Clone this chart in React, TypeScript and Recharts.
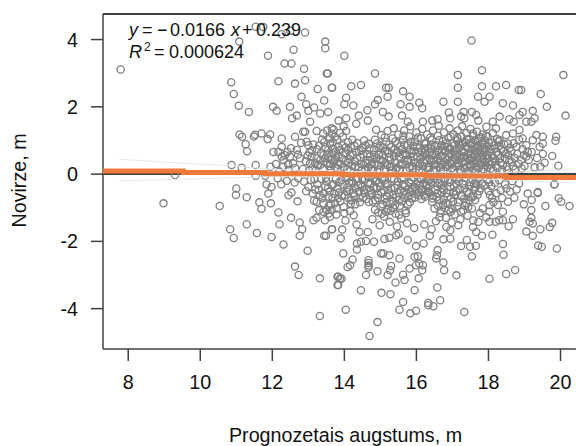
import React from 'react';
import {
  ScatterChart,
  Scatter,
  XAxis,
  YAxis,
  ReferenceLine,
} from 'recharts';

type Pair = [number, number];

const xTicks = [8, 10, 12, 14, 16, 18, 20];
const yTicks = [-4, -2, 0, 2, 4];
const xDomain = [7.3, 20.43];
const yDomain = [-5.2, 4.76];

// fitted line (it is stepped in the image)
const fitLine: Pair[] = [
  [7.3, 0.09], [9.53, 0.09], [9.53, 0.05], [11.8, 0.05], [11.8, 0.01], [13.95, 0.01],
  [13.95, -0.02], [16.27, -0.02], [16.27, -0.06], [18.49, -0.06], [18.49, -0.1], [20.43, -0.1],
];
const bandUpper: Pair[] = [
  [7.77, 0.44], [9.53, 0.32], [10.83, 0.25], [12, 0.14], [15, 0.06], [18, 0.02], [19.4, 0.09], [20.25, 0.14],
];
const bandLower: Pair[] = [
  [7.77, -0.2], [12.1, -0.08], [15, -0.07], [18, -0.15], [20.25, -0.26],
];

// outlying points, top left
const upperLeft: Pair[] = [
  [7.79, 3.11], [11.54, 4.38], [11.75, 4.37], [12.26, 4.16], [12.5, 4.26], [12.91, 4.21], [11.08, 3.94], [13.47, 3.94],
  [13.47, 3.74], [12.59, 3.7], [11.88, 3.52], [12.34, 3.29], [12.53, 3.29], [12.88, 3.13], [13.51, 2.99], [10.86, 2.73],
  [12.17, 2.76], [12.63, 2.69], [12.91, 2.79], [13.26, 2.53], [13.66, 2.57], [10.93, 2.38], [12.81, 2.3], [13.44, 2.19],
  [11.07, 2.03], [11.35, 1.85], [12.02, 2], [12.12, 1.88], [12.49, 2], [12.94, 2.08], [13, 1.88], [13.16, 1.98],
  [13.55, 1.85], [13.33, 1.8], [12.68, 1.74], [12.55, 1.66], [13.05, 1.56], [12.91, 1.26], [13.23, 1.28], [13.41, 1.21],
  [13.65, 1.36], [13.65, 1.21], [11.09, 1.18], [11.16, 1.11], [11.26, 0.89], [11.3, 0.68], [11.49, 1.12], [11.52, 1.17],
  [11.7, 1.21], [11.87, 1.04], [11.94, 1.18], [10.87, 0.27], [11.15, 0.19], [11.54, 0.27], [11.54, -0.05], [11.95, 0.22],
  [11.8, -0.05], [12.26, 1.06], [12.63, 1.11], [12.95, 0.96], [13, 0.86], [12.86, 1.26], [12.26, 0.81], [12.17, 0.66],
  [12.03, 0.66], [12.35, 0.56], [12.58, 0.32], [12.77, 0.47], [12.49, 0.52], [12.26, 0.52], [13.05, 0.32], [13.23, 0.47],
  [13.42, 0.56], [13.56, 0.51], [13.51, 0.32], [13.74, 0.42], [13.42, 0.17], [13.19, 0.32], [13.6, 1.06], [13.74, 1.11],
  [13.83, 0.81], [12.1, 0.3], [12.3, 0.22], [12.42, 0.66], [12.45, 0.12], [12.68, 0.72], [12.85, 0.15], [13.1, 0.7],
  [13.3, 0.85], [13.35, 0.62], [13.47, 0.8], [13.2, 0.1], [12.98, 0.55], [12.2, 0.08],
];

// outlying points, top right
const upperRight: Pair[] = [
  [17.53, 3.97], [14, 3.52], [14.85, 2.99], [13.54, 2.99], [13.65, 2.57], [14.19, 2.61], [14.46, 2.65], [15.16, 2.57],
  [15.23, 2.57], [14.05, 2.27], [14, 2.08], [14.25, 2.04], [15.2, 2.3], [14.93, 2.2], [14.85, 2.08], [15.07, 1.85],
  [15.23, 1.71], [14.64, 1.9], [15.63, 2.46], [15.81, 2.3], [15.56, 2.08], [15.81, 2], [15.6, 1.74], [15.76, 1.56],
  [16.08, 2.12], [16.16, 1.96], [17.15, 2.95], [17.15, 2.57], [17.15, 2.15], [16.75, 2.15], [17.82, 3.09], [17.82, 2.61],
  [18.21, 2.61], [18.49, 2.65], [17.71, 2.3], [18.03, 2.3], [17.89, 2.15], [18.84, 2.5], [18.91, 2.5], [19.45, 2.38],
  [20.08, 2.95], [19.62, 2], [20.14, 1.74], [19.23, 1.88], [19.28, 1.66], [18.4, 2.11], [18.68, 2.04], [18.95, 1.85],
  [18.86, 1.76], [19.05, 1.56], [19.19, 1.56], [16.9, 1.83], [16.94, 1.66], [17.31, 1.85], [17.24, 1.71], [17.33, 1.66],
  [17.54, 1.85], [17.66, 1.76], [17.72, 1.59], [16.59, 1.63], [16.44, 1.59], [16.18, 1.56], [14.4, 1.74], [13.84, 1.59],
  [14.05, 1.66], [14.65, 1.59], [14.33, 1.5], [18.31, 1.71], [18.12, 1.56], [18.58, 1.63], [18.7, 1.56], [17.94, 1.41],
  [18.21, 1.36], [19.33, 1.16], [19.51, 1.11], [19.88, 1.11], [19.86, 0.99], [19.51, 0.91], [19.77, 0.54], [19.56, 0.34],
  [19.94, 0.25], [19.51, 0.6], [19.42, 0.81], [19.05, 0.52], [19.09, 0.66], [19.23, 1.01], [18.95, 1.06], [18.68, 1.21],
  [18.49, 1.16], [18.31, 1.01], [18.86, 1.31], [18.54, 0.91],
];

// outlying points, bottom left
const lowerLeft: Pair[] = [
  [9.3, -0.03], [8.98, -0.87], [10.54, -0.95], [11, -0.43], [10.99, -0.62], [11.29, -0.69], [11.64, -0.84], [11.7, -1.03],
  [11.96, -0.87], [11.89, -0.58], [11.98, -0.38], [11.84, -0.31], [12.17, -1.14], [12.45, -0.63], [12.53, -0.55], [12.7, -0.81],
  [12.52, -1.3], [12.2, -1.49], [12.76, -1.44], [12.83, -1.64], [12.76, -1.83], [11.29, -1.49], [10.83, -1.64], [10.93, -1.9],
  [11.57, -1.75], [11.98, -1.87], [12.31, -2.09], [12.98, -2.28], [12.63, -2.75], [12.73, -3], [13.32, -3.1], [13.32, -4.22],
  [13.81, -3.05], [13.81, -3.3], [13.88, -3.1], [13.44, -1.83], [13.66, -1.64], [13.14, -1.37], [13.23, -1.3], [13.46, -1.37],
  [13.56, -1.17], [13.65, -1.07], [13.51, -1.07], [13.3, -1.07], [13.42, -1.12], [13.6, -1.27], [13.74, -0.87], [13.42, -0.87],
  [13.23, -0.82], [13.16, -0.79], [13.32, -0.63], [13.12, -0.58], [13.42, -0.58], [13.56, -0.67], [13.83, -0.72], [12.25, -0.3],
  [12.4, -0.2], [12.15, -0.12], [12.62, -0.25], [12.88, -0.22], [13, -0.38], [12.72, -0.12], [13.25, -0.3], [13.5, -0.22],
];

// outlying points, bottom right
const lowerRight: Pair[] = [
  [14.7, -4.81], [14.92, -4.4], [14.04, -4.03], [14.46, -3.45], [13.83, -3.3], [13.83, -3.05], [13.92, -3.11], [14.6, -3],
  [14.92, -2.89], [15.03, -3.53], [15.28, -3.57], [15.42, -3.22], [15.67, -3.15], [15.63, -2.99], [15.2, -3], [15.27, -2.86],
  [15.3, -2.73], [15.81, -2.81], [16.06, -3.1], [15.95, -3.45], [15.63, -3.8], [15.53, -4.03], [15.83, -4.14], [15.99, -4.06],
  [16.33, -3.83], [16.33, -3.9], [16.47, -3.93], [16.66, -3.75], [16.58, -3.37], [17.33, -4.1], [17.11, -3.01], [18.03, -3.11],
  [18.49, -2.97], [18.74, -2.85], [16.77, -2.86], [16.75, -2.63], [16.55, -2.51], [16.57, -2.41], [16.59, -2.26], [16.16, -2.86],
  [16.18, -2.71], [16.08, -2.66], [15.99, -2.71], [15.95, -2.46], [16.04, -2.44], [15.53, -2.51], [15.25, -2.41], [15.02, -2.36],
  [15.08, -2.36], [14.67, -2.56], [14.67, -2.64], [14.67, -2.72], [14.67, -2.78], [14.23, -2.54], [14.16, -2.71], [14.09, -2.76],
  [13.97, -2.36], [14.35, -2.24], [17.54, -2.44], [17.24, -2.14], [17.49, -2.16], [17.65, -2.13], [17.4, -1.96], [18.4, -2.08],
  [18.42, -2.4], [19.38, -2.12], [19.48, -2.16], [19.9, -2.21], [19.23, -1.83], [19.05, -1.71], [19.44, -1.64], [19.7, -1.57],
  [19.77, -1.45], [19.58, -0.95], [20.25, -0.95], [19.95, -0.72], [20.02, -0.82], [19.83, -0.31], [19.37, -0.56], [19.2, -0.77],
  [19.19, -1.07], [19.19, -1.3], [19.14, -1.42], [19.23, -1.47], [19.09, -0.58], [18.68, -1.34], [18.56, -1.55], [18.11, -1.8],
  [17.82, -1.83], [18.03, -0.92], [18.03, -1.12], [18.03, -1.42], [18.2, -1.42], [18.4, -1.37], [18.54, -0.82], [18.4, -1.12],
  [18.3, -1.37], [17.63, -0.77], [17.57, -0.67], [17.72, -1.42], [17.57, -1.57], [17.66, -1.72], [17.16, -1.52], [16.94, -1.92],
  [16.75, -1.94], [16.94, -1.67], [16.83, -1.57], [16.37, -1.83], [16.2, -2.06], [15.99, -2.14], [15.76, -1.96], [15.51, -1.77],
  [14.82, -2.01], [14.6, -1.99], [14.46, -2.01], [14.35, -2.06], [14.42, -1.72], [14.65, -1.72], [15.11, -1.93], [15.25, -1.89],
  [15.44, -1.82], [13.9, -1.91], [13.94, -1.65], [13.65, -1.64], [13.49, -1.83], [19.83, -0.3], [19.37, -0.53],
];

// the crowded part above zero
const denseAbove: Pair[] = [
  [13.52, 1.3], [13.6, 0.9], [13.66, 0.62], [13.7, 1.32], [13.75, 0.2], [13.8, 1.02], [13.84, 0.55], [13.88, 1.22],
  [13.9, 0.3], [13.95, 0.86], [13.98, 1.42], [14.02, 0.62], [14.05, 1.28], [14.08, 0.14], [14.1, 0.95], [13.62, 0.12],
  [13.7, 0.36], [13.55, 0.72], [14.14, 0.44], [14.18, 0.8], [14.22, 1.02], [14.3, 0.22], [14.33, 0.66], [14.36, 0.92],
  [14.44, 0.5], [14.48, 0.1], [14.5, 0.78], [14.55, 1], [14.6, 0.32], [14.64, 0.6], [14.68, 0.9], [14.74, 0.16],
  [14.78, 0.44], [14.82, 0.72], [14.85, 1.02], [14.88, 1.32], [14.92, 0.26], [14.96, 0.58], [15, 0.84], [15.03, 1.16],
  [15.06, 0.38], [15.1, 0.12], [15.13, 0.68], [15.16, 0.96], [15.2, 1.28], [15.24, 0.5], [15.27, 0.22], [15.3, 0.8],
  [15.34, 1.06], [15.37, 1.36], [15.41, 0.34], [15.44, 0.62], [15.47, 0.9], [15.5, 1.18], [15.54, 0.14], [15.57, 0.46],
  [15.6, 0.74], [15.63, 1.02], [15.66, 1.3], [15.7, 0.28], [15.73, 0.56], [15.76, 0.86], [15.8, 1.12], [15.83, 1.42],
  [15.86, 0.4], [15.9, 0.16], [15.93, 0.68], [15.96, 0.96], [16, 1.24], [16.03, 0.52], [16.06, 0.24], [16.09, 0.78],
  [16.13, 1.06], [16.16, 1.34], [16.2, 0.36], [16.23, 0.64], [16.26, 0.92], [16.3, 1.18], [16.33, 0.12], [16.36, 0.46],
  [16.4, 0.76], [16.43, 1.02], [16.46, 1.3], [16.5, 0.26], [16.53, 0.58], [16.56, 0.86], [16.59, 1.14], [16.62, 1.44],
  [16.65, 0.38], [16.68, 0.14], [16.71, 0.7], [16.74, 0.98], [16.77, 1.24], [16.8, 0.5], [16.83, 0.22], [16.86, 0.8],
  [16.89, 1.08], [16.92, 1.36], [16.94, 0.34], [16.97, 0.62], [17, 0.92], [17.03, 1.18], [17.05, 0.12], [17.08, 0.44],
  [17.1, 0.72], [17.13, 1], [17.15, 1.3], [17.18, 0.24], [17.2, 0.56], [17.22, 0.84], [17.25, 1.12], [17.27, 1.42],
  [17.3, 0.36], [17.32, 0.66], [17.35, 0.16], [17.37, 0.94], [17.39, 1.22], [17.42, 0.48], [17.44, 0.76], [17.46, 1.04],
  [17.48, 0.28], [17.5, 1.34], [17.52, 0.6], [17.54, 0.88], [17.56, 0.14], [17.58, 1.14], [17.6, 0.4], [17.62, 0.7],
  [17.64, 0.98], [17.66, 0.22], [17.68, 1.26], [17.7, 0.52], [17.72, 0.8], [17.74, 1.06], [17.76, 0.32], [17.78, 0.62],
  [17.8, 0.12], [17.82, 0.9], [17.84, 1.18], [17.86, 0.44], [17.88, 0.72], [17.9, 1], [17.92, 0.26], [17.94, 0.56],
  [17.96, 0.84], [17.98, 1.12], [18, 0.36], [18.03, 0.66], [18.06, 0.16], [18.09, 0.94], [18.12, 1.22], [18.15, 0.48],
  [18.18, 0.76], [18.21, 0.24], [18.24, 1.04], [18.27, 0.58], [18.3, 0.84], [18.34, 0.34], [18.38, 0.12], [18.42, 0.68],
  [18.46, 0.46], [18.5, 0.22], [18.55, 0.56], [18.6, 0.78], [18.65, 0.36], [18.7, 0.92], [18.75, 0.14], [18.8, 0.6],
  [18.85, 1.02], [18.9, 0.42], [18.95, 0.74], [19, 0.24], [19.05, 0.86], [19.12, 0.42], [19.2, 0.66], [19.28, 0.2],
  [19.35, 0.48], [19.44, 0.22],
];

// second pass over the solid area above zero, where the rings overlap
const solidAbove: Pair[] = [
  [12.31, 0.42], [12.44, 0.29], [12.52, 0.77], [12.63, 0.18], [12.71, 0.58], [12.8, 0.93], [12.93, 0.38], [13.02, 0.11],
  [13.09, 0.52], [13.14, 0.88], [13.27, 0.26], [13.33, 0.41], [13.38, 1.03], [13.46, 0.47], [13.58, 0.24], [13.64, 0.44],
  [13.69, 0.76], [13.77, 0.5], [13.81, 0.16], [13.93, 0.47], [13.97, 0.22], [14.04, 0.79], [14.11, 0.33], [14.17, 0.09],
  [14.24, 0.57], [14.29, 0.38], [14.39, 0.21], [14.47, 0.71], [14.53, 0.28], [14.59, 0.86], [14.66, 0.19], [14.71, 0.52],
  [14.8, 0.12], [14.84, 0.31], [14.91, 0.91], [14.97, 0.13], [15.01, 0.43], [15.08, 0.79], [15.12, 1.09], [15.18, 0.27],
  [15.23, 0.63], [15.28, 0.41], [15.32, 0.11], [15.39, 0.73], [15.42, 0.97], [15.46, 0.19], [15.52, 0.52], [15.55, 0.83],
  [15.61, 0.31], [15.64, 1.14], [15.69, 0.61], [15.72, 0.11], [15.77, 0.43], [15.81, 0.72], [15.84, 0.96], [15.88, 0.23],
  [15.92, 0.52], [15.97, 0.34], [16.01, 0.81], [16.04, 1.09], [16.08, 0.13], [16.11, 0.44], [16.15, 0.68], [16.19, 0.24],
  [16.22, 0.91], [16.25, 0.41], [16.28, 0.58], [16.32, 0.77], [16.35, 0.21], [16.38, 1.08], [16.41, 0.37], [16.44, 0.56],
  [16.47, 0.12], [16.51, 0.83], [16.54, 0.29], [16.57, 0.66], [16.6, 0.46], [16.63, 1.01], [16.66, 0.21], [16.69, 0.86],
  [16.72, 0.54], [16.75, 0.11], [16.78, 0.36], [16.81, 0.68], [16.84, 0.92], [16.87, 0.28], [16.9, 0.51], [16.93, 0.77],
  [16.95, 1.12], [16.98, 0.17], [17.01, 0.41], [17.04, 0.66], [17.06, 0.86], [17.09, 0.23], [17.12, 0.52], [17.14, 1.07],
  [17.16, 0.33], [17.19, 0.77], [17.21, 0.13], [17.23, 0.46], [17.26, 0.68], [17.28, 0.93], [17.31, 0.19], [17.33, 0.53],
  [17.36, 0.36], [17.38, 0.81], [17.4, 1.03], [17.43, 0.09], [17.45, 0.62], [17.47, 0.41], [17.49, 0.91], [17.51, 0.21],
  [17.53, 0.73], [17.55, 0.49], [17.57, 1.21], [17.59, 0.31], [17.61, 0.83], [17.63, 0.56], [17.65, 0.12], [17.67, 0.66],
  [17.69, 0.38], [17.71, 0.97], [17.73, 0.18], [17.75, 0.71], [17.77, 0.47], [17.79, 1.09], [17.81, 0.27], [17.83, 0.76],
  [17.85, 0.57], [17.87, 0.14], [17.89, 0.88], [17.91, 0.36], [17.93, 1.14], [17.95, 0.67], [17.97, 0.21], [17.99, 0.48],
  [18.01, 0.93], [18.04, 0.28], [18.07, 0.74], [18.1, 0.53], [18.13, 0.12], [18.16, 0.86], [18.19, 0.39], [18.22, 0.64],
  [18.25, 0.18], [18.28, 0.97], [18.32, 0.47], [18.36, 0.73], [18.4, 0.27], [18.44, 0.89], [18.48, 0.61], [18.52, 0.14],
  [18.58, 0.41], [18.63, 0.68], [18.68, 0.23], [18.73, 0.48], [18.78, 0.81], [18.84, 0.31], [18.92, 0.17], [18.98, 0.56],
];

// third pass, the left and middle of the cloud were still too light
const thirdPass: Pair[] = [
  [13.03, 0.64], [13.11, 0.19], [13.17, -0.15], [13.24, 0.74], [13.29, -0.47], [13.34, 0.28], [13.39, -0.72], [13.44, 0.95],
  [13.49, -0.11], [13.53, 0.58], [13.57, -0.94], [13.61, 0.31], [13.65, -0.33], [13.68, 0.95], [13.72, -0.58], [13.76, 0.67],
  [13.79, -1.02], [13.83, 0.28], [13.86, -0.24], [13.89, 0.72], [13.93, -0.64], [13.96, 1.12], [14, -1.16], [14.03, 0.38],
  [14.07, -0.52], [14.1, 0.71], [14.13, -0.26], [14.16, 0.56], [14.19, -0.78], [14.22, 0.25], [14.26, -1.22], [14.28, 0.84],
  [14.31, -0.41], [14.35, 0.48], [14.37, -0.12], [14.41, 0.68], [14.43, -0.84], [14.46, 0.31], [14.49, -0.38], [14.52, 0.58],
  [14.56, -0.57], [14.58, 0.15], [14.61, -0.74], [14.65, 0.42], [14.67, -0.1], [14.7, 0.76], [14.73, -0.49], [14.76, 0.29],
  [14.79, -0.82], [14.83, 0.57], [14.87, -0.22], [14.9, 0.47], [14.93, -0.61], [14.95, 0.78], [14.99, -0.37], [15.02, 0.25],
  [15.04, -1.18], [15.07, 0.56], [15.11, -0.19], [15.14, 0.33], [15.17, -0.83], [15.19, 0.69], [15.22, -0.47], [15.25, 0.88],
  [15.29, -1.09], [15.31, 0.24], [15.35, -0.62], [15.38, 0.52], [15.41, -0.92], [15.43, 0.15], [15.47, -0.33], [15.49, 0.66],
  [15.53, -0.76], [15.56, 0.28], [15.59, -0.14], [15.62, 0.58], [15.65, -0.52], [15.67, 0.87], [15.71, -1.16], [15.74, 0.39],
  [15.78, -0.66], [15.81, 0.19], [15.83, -0.28], [15.87, 0.62], [15.89, -0.41], [15.91, 0.84], [15.95, -0.7], [15.98, 0.14],
  [16.02, -0.3], [16.05, 0.66], [16.07, -0.54], [16.1, 0.31], [16.13, -0.16], [16.17, 0.52], [16.21, -0.62], [16.24, 0.76],
  [16.27, -0.35], [16.31, 0.18], [16.33, -0.52], [16.37, 0.63], [16.39, -0.15], [16.42, 0.87], [16.45, -0.72], [16.49, 0.41],
  [16.52, -0.25], [16.55, 0.14], [16.58, -0.58], [16.61, 0.72], [16.64, -1.28], [16.67, 0.53], [16.7, -0.33], [16.73, 0.27],
  [16.76, -0.47], [16.79, 0.83], [16.82, -0.86], [16.85, 0.43], [16.88, -0.17], [16.91, 0.61], [16.95, -1.12], [16.99, 0.31],
  [17.02, -0.54], [17.07, 0.58], [17.11, -0.29], [17.17, 0.91], [17.24, -0.63], [17.29, 0.49], [17.34, -0.93], [17.41, 0.23],
  [17.47, -0.78], [17.53, 0.42], [17.6, -0.29], [17.68, 0.84], [17.74, -0.51], [17.92, 0.72], [18.02, -0.24], [18.11, 0.37],
];

// the crowded part below zero
const denseBelow: Pair[] = [
  [13.55, -0.42], [13.62, -0.9], [13.7, -0.3], [13.78, -1.2], [13.85, -0.55], [13.92, -0.18], [13.98, -0.98], [14.03, -1.38],
  [14.08, -0.4], [14.12, -0.72], [14.16, -1.1], [14.2, -0.2], [14.25, -0.56], [14.3, -0.9], [14.34, -1.5], [14.38, -0.34],
  [14.42, -0.7], [14.5, -0.14], [14.54, -0.48], [14.66, -0.26], [14.7, -0.62], [14.78, -1.34], [14.82, -0.4], [14.86, -0.78],
  [14.9, -0.18], [14.94, -1.14], [14.98, -1.52], [15.02, -0.54], [15.06, -0.9], [15.1, -1.26], [15.14, -0.28], [15.18, -0.66],
  [15.22, -1.04], [15.26, -1.42], [15.3, -0.42], [15.34, -0.8], [15.38, -0.16], [15.42, -1.18], [15.46, -1.56], [15.5, -0.56],
  [15.54, -0.94], [15.58, -1.32], [15.62, -0.3], [15.66, -0.7], [15.7, -1.08], [15.74, -1.46], [15.78, -0.46], [15.82, -0.84],
  [15.86, -0.18], [15.94, -1.6], [15.98, -0.6], [16.1, -0.32], [16.14, -0.74], [16.22, -1.5], [16.26, -0.5], [16.34, -0.2],
  [16.42, -1.64], [16.46, -0.64], [16.5, -1.02], [16.54, -1.4], [16.58, -0.36], [16.62, -0.78], [16.66, -1.16], [16.7, -0.54],
  [16.74, -0.92], [16.78, -0.2], [16.82, -1.3], [16.86, -0.68], [16.9, -1.06], [16.94, -0.38], [16.98, -1.44], [17.02, -0.82],
  [17.06, -1.2], [17.1, -0.5], [17.14, -0.96], [17.18, -0.22], [17.22, -1.34], [17.26, -0.66], [17.3, -1.08], [17.34, -0.42],
  [17.38, -0.86], [17.42, -1.24], [17.46, -0.56], [17.5, -0.24], [17.54, -1.02], [17.58, -1.38], [17.64, -0.4], [17.7, -0.62],
  [17.76, -1.16], [17.82, -0.28], [17.94, -1.28], [18, -0.5], [18.1, -0.72], [18.18, -0.26], [18.26, -0.92], [18.34, -0.48],
  [18.46, -0.3], [18.6, -0.52], [18.72, -0.7], [18.85, -0.28], [18.98, -0.9],
];

// second pass over the crowded part below zero
const solidBelow: Pair[] = [
  [12.94, -0.51], [13.07, -0.17], [13.19, -0.46], [13.36, -0.14], [13.47, -0.36], [13.59, -0.52], [13.67, -0.71], [13.76, -0.16],
  [13.81, -0.42], [13.89, -0.81], [13.96, -0.31], [14.01, -0.63], [14.06, -0.11], [14.14, -0.47], [14.18, -0.88], [14.23, -0.27],
  [14.28, -0.66], [14.33, -0.13], [14.4, -0.52], [14.45, -0.31], [14.52, -0.69], [14.57, -0.16], [14.62, -0.44], [14.68, -0.83],
  [14.72, -0.29], [14.76, -0.56], [14.81, -0.12], [14.85, -1.06], [14.89, -0.43], [14.93, -0.71], [14.97, -0.26], [15.01, -0.97],
  [15.05, -0.14], [15.09, -0.48], [15.12, -0.74], [15.16, -1.12], [15.2, -0.31], [15.24, -0.57], [15.28, -0.88], [15.32, -0.13],
  [15.36, -1.01], [15.4, -0.41], [15.44, -0.68], [15.48, -0.22], [15.52, -1.21], [15.56, -0.47], [15.6, -0.81], [15.64, -0.12],
  [15.68, -0.37], [15.72, -0.58], [15.76, -0.91], [15.8, -0.24], [15.84, -0.53], [15.88, -0.72], [15.92, -0.11], [15.96, -0.38],
  [16, -0.49], [16.04, -0.22], [16.08, -0.63], [16.12, -0.13], [16.16, -0.46], [16.2, -0.28], [16.24, -0.67], [16.28, -0.14],
  [16.32, -0.41], [16.36, -0.56], [16.4, -0.25], [16.44, -0.83], [16.48, -0.12], [16.52, -0.47], [16.56, -0.68], [16.6, -0.94],
  [16.64, -0.27], [16.68, -1.08], [16.72, -0.42], [16.76, -0.76], [16.8, -0.13], [16.84, -0.56], [16.88, -0.89], [16.92, -0.24],
  [16.96, -0.71], [17, -1.04], [17.04, -0.37], [17.08, -0.61], [17.12, -0.14], [17.16, -0.84], [17.2, -0.46], [17.24, -1.12],
  [17.28, -0.29], [17.32, -0.74], [17.36, -0.11], [17.4, -0.52], [17.44, -0.98], [17.48, -0.36], [17.52, -0.68], [17.56, -0.17],
  [17.6, -0.46], [17.66, -0.27], [17.72, -0.14], [17.78, -0.42], [17.84, -1.02], [17.9, -0.33], [17.96, -0.16], [18.04, -0.62],
  [18.08, -0.36], [18.14, -0.84], [18.22, -0.57], [18.3, -0.18], [18.38, -0.71], [18.5, -0.43], [18.66, -0.21], [18.78, -0.46],
];

const toPoints = (pairs: Pair[]) => pairs.map(([x, y]) => ({ x, y }));
const allPoints = toPoints([
  ...upperLeft, ...upperRight, ...lowerLeft, ...lowerRight,
  ...denseAbove, ...solidAbove, ...thirdPass, ...denseBelow, ...solidBelow,
]);

const AXIS = '#404040';
const FONT = '"Liberation Sans", Arial, sans-serif';
const TEXT = '#111';
const LABEL_SIZE = 19.7;

const Ring = ({ cx, cy }: any) => (
  <circle cx={cx} cy={cy} r={3.6} fill="none" stroke="#808080" strokeWidth={1.3} />
);
const NoDot = () => null;

export default function App() {
  return (
    <div style={{ position: 'absolute', left: 0, top: 0, width: 576, height: 446, background: '#fff', overflow: 'hidden' }}>
      <ScatterChart width={576} height={446} margin={{ top: 14, right: 0, bottom: 0, left: 0 }}>
        <XAxis
          type="number"
          dataKey="x"
          domain={xDomain}
          ticks={xTicks}
          allowDataOverflow
          height={97}
          tickSize={12}
          tickMargin={14}
          stroke={AXIS}
          strokeWidth={1.5}
          tick={{ fill: TEXT, fontSize: LABEL_SIZE, fontFamily: FONT }}
        />
        <YAxis
          type="number"
          dataKey="y"
          domain={yDomain}
          ticks={yTicks}
          allowDataOverflow
          width={103}
          tickSize={12}
          tickMargin={13}
          stroke={AXIS}
          strokeWidth={1.5}
          tick={{ fill: TEXT, fontSize: LABEL_SIZE, fontFamily: FONT }}
        />
        <ReferenceLine y={yDomain[1]} stroke={AXIS} strokeWidth={2} />
        <ReferenceLine y={0} stroke="#000" strokeWidth={1.5} />
        <Scatter data={allPoints} shape={Ring} isAnimationActive={false} />
        <Scatter data={toPoints(bandUpper)} shape={NoDot} line={{ stroke: '#e6e6e6', strokeWidth: 1 }} isAnimationActive={false} />
        <Scatter data={toPoints(bandLower)} shape={NoDot} line={{ stroke: '#e6e6e6', strokeWidth: 1 }} isAnimationActive={false} />
        <Scatter data={toPoints(fitLine)} shape={NoDot} line={{ stroke: '#ee7a3c', strokeWidth: 5 }} isAnimationActive={false} />
      </ScatterChart>
      <svg width={576} height={446} style={{ position: 'absolute', left: 0, top: 0, pointerEvents: 'none' }}>
        <text x={345.5} y={442} textAnchor="middle" fontFamily={FONT} fontSize={LABEL_SIZE} fill={TEXT}>
          Prognozetais augstums, m
        </text>
        <text transform="translate(26,180.5) rotate(-90)" textAnchor="middle" fontFamily={FONT} fontSize={LABEL_SIZE} fill={TEXT}>
          Novirze, m
        </text>
        <text y={36} fontFamily={FONT} fontSize={18} fill={TEXT}>
          <tspan x={129} fontStyle="italic">y</tspan>
          <tspan x={142}>=</tspan>
          <tspan x={157}>−</tspan>
          <tspan x={170}>0.0166</tspan>
          <tspan x={231} fontStyle="italic">x</tspan>
          <tspan x={242}>+</tspan>
          <tspan x={256}>0.239</tspan>
        </text>
        <text y={57.5} fontFamily={FONT} fontSize={18} fill={TEXT}>
          <tspan x={129} fontStyle="italic">R</tspan>
          <tspan x={144} y={51} fontSize={12}>2</tspan>
          <tspan x={154} y={57.5}>=</tspan>
          <tspan x={169}>0.000624</tspan>
        </text>
      </svg>
    </div>
  );
}
